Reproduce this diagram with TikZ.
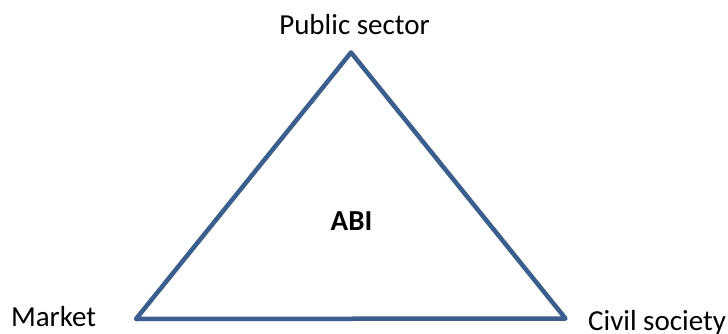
\documentclass[tikz,border=0pt]{standalone}
\usepackage{fontspec}
\setmainfont{Carlito}
\definecolor{edgeblue}{HTML}{3A5F8D}
\begin{document}
\begin{tikzpicture}[x=1pt,y=-1pt,
  lbl/.style={inner sep=0pt,font=\fontsize{29}{34}\selectfont,text=black},
  tri/.style={draw=edgeblue,line width=4.5pt,line join=round}]
\useasboundingbox (0,0) rectangle (728,334);
\coordinate (top) at (351,52.5);
\coordinate (bl) at (136,319);
\coordinate (br) at (565.5,318.5);
\draw[tri] (top) -- (bl) -- (br) -- cycle;
\node[lbl,anchor=base] (pub) at (354.5,35) {Public sector};
\node[lbl,anchor=base,font=\fontsize{29}{34}\selectfont\bfseries] (abi) at (351.5,230.7) {ABI};
\node[lbl,anchor=base west] (mkt) at (10.8,326.7) {Market};
\node[lbl,anchor=base west] (civ) at (588,330.7) {Civil society};
\end{tikzpicture}
\end{document}
